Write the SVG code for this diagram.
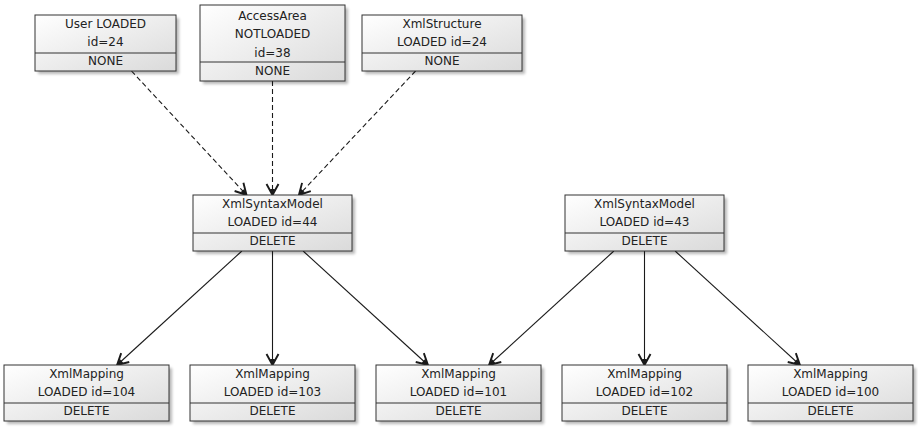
<svg xmlns="http://www.w3.org/2000/svg" width="918" height="428" viewBox="0 0 918 428">
<style>
  .box { fill: url(#g); stroke: #333333; stroke-width: 1; }
  .sh { fill: #000000; opacity: 0.28; filter: url(#blur); }
  .div { stroke: #333333; stroke-width: 1; }
  text { font-family: "DejaVu Sans", "Liberation Sans", sans-serif; font-size: 12px; fill: #222222; text-anchor: middle; }
  .edge { stroke: #1a1a1a; stroke-width: 1.1; fill: none; marker-end: url(#arr); }
  .dash { stroke-dasharray: 5 3; }
</style>
<defs>
  <linearGradient id="g" x1="0" y1="0" x2="1" y2="1">
    <stop offset="0" stop-color="#ffffff"/>
    <stop offset="1" stop-color="#dadada"/>
  </linearGradient>
  <filter id="blur" x="-10%" y="-10%" width="120%" height="130%">
    <feGaussianBlur stdDeviation="1.5"/>
  </filter>
  <marker id="arr" markerUnits="userSpaceOnUse" markerWidth="15" markerHeight="15" viewBox="0 0 15 15" refX="13" refY="7.5" orient="auto">
    <path d="M2,1.5 L13,7.5 L2,13.5" fill="none" stroke="#1a1a1a" stroke-width="1.9"/>
    <path d="M7,5 L13,7.5 L7,10 Z" fill="#1a1a1a"/>
  </marker>
</defs>
<rect width="918" height="428" fill="#ffffff"/>

<g id="connectors">
  <line class="edge dash" x1="131.5" y1="71" x2="246.5" y2="195"/>
  <line class="edge dash" x1="272.5" y1="81" x2="272.5" y2="195"/>
  <line class="edge dash" x1="415.6" y1="71" x2="298.9" y2="195"/>
  <line class="edge" x1="241.9" y1="251" x2="117.1" y2="365"/>
  <line class="edge" x1="272.5" y1="251" x2="272.5" y2="365"/>
  <line class="edge" x1="303.1" y1="251" x2="427.9" y2="365"/>
  <line class="edge" x1="613.9" y1="251" x2="489.1" y2="365"/>
  <line class="edge" x1="644.5" y1="251" x2="644.5" y2="365"/>
  <line class="edge" x1="675.1" y1="251" x2="799.9" y2="365"/>
</g>

<g id="user">
  <rect class="sh" x="38" y="18" width="141" height="56"/>
  <rect class="box" x="35" y="15" width="141" height="56"/>
  <line class="div" x1="35" y1="53" x2="176" y2="53"/>
  <text x="105.5" y="27.5">User LOADED</text>
  <text x="105.5" y="46">id=24</text>
  <text x="105.5" y="64.5">NONE</text>
</g>

<g id="accessarea">
  <rect class="sh" x="203" y="8" width="145" height="76"/>
  <rect class="box" x="200" y="5" width="145" height="76"/>
  <line class="div" x1="200" y1="62" x2="345" y2="62"/>
  <text x="272.5" y="19.5">AccessArea</text>
  <text x="272.5" y="38">NOTLOADED</text>
  <text x="272.5" y="56.5">id=38</text>
  <text x="272.5" y="75">NONE</text>
</g>

<g id="xmlstructure">
  <rect class="sh" x="365" y="18" width="160" height="56"/>
  <rect class="box" x="362" y="15" width="160" height="56"/>
  <line class="div" x1="362" y1="53" x2="522" y2="53"/>
  <text x="442" y="27.5">XmlStructure</text>
  <text x="442" y="46">LOADED id=24</text>
  <text x="442" y="64.5">NONE</text>
</g>

<g id="syntax44">
  <rect class="sh" x="196" y="198" width="159" height="56"/>
  <rect class="box" x="193" y="195" width="159" height="56"/>
  <line class="div" x1="193" y1="233" x2="352" y2="233"/>
  <text x="272.5" y="207.5">XmlSyntaxModel</text>
  <text x="272.5" y="226">LOADED id=44</text>
  <text x="272.5" y="244.5">DELETE</text>
</g>

<g id="syntax43">
  <rect class="sh" x="568" y="198" width="159" height="56"/>
  <rect class="box" x="565" y="195" width="159" height="56"/>
  <line class="div" x1="565" y1="233" x2="724" y2="233"/>
  <text x="644.5" y="207.5">XmlSyntaxModel</text>
  <text x="644.5" y="226">LOADED id=43</text>
  <text x="644.5" y="244.5">DELETE</text>
</g>

<g id="mapping104">
  <rect class="sh" x="7" y="368" width="165" height="56"/>
  <rect class="box" x="4" y="365" width="165" height="56"/>
  <line class="div" x1="4" y1="403" x2="169" y2="403"/>
  <text x="86.5" y="377.5">XmlMapping</text>
  <text x="86.5" y="396">LOADED id=104</text>
  <text x="86.5" y="414.5">DELETE</text>
</g>

<g id="mapping103">
  <rect class="sh" x="193" y="368" width="165" height="56"/>
  <rect class="box" x="190" y="365" width="165" height="56"/>
  <line class="div" x1="190" y1="403" x2="355" y2="403"/>
  <text x="272.5" y="377.5">XmlMapping</text>
  <text x="272.5" y="396">LOADED id=103</text>
  <text x="272.5" y="414.5">DELETE</text>
</g>

<g id="mapping101">
  <rect class="sh" x="379" y="368" width="165" height="56"/>
  <rect class="box" x="376" y="365" width="165" height="56"/>
  <line class="div" x1="376" y1="403" x2="541" y2="403"/>
  <text x="458.5" y="377.5">XmlMapping</text>
  <text x="458.5" y="396">LOADED id=101</text>
  <text x="458.5" y="414.5">DELETE</text>
</g>

<g id="mapping102">
  <rect class="sh" x="565" y="368" width="165" height="56"/>
  <rect class="box" x="562" y="365" width="165" height="56"/>
  <line class="div" x1="562" y1="403" x2="727" y2="403"/>
  <text x="644.5" y="377.5">XmlMapping</text>
  <text x="644.5" y="396">LOADED id=102</text>
  <text x="644.5" y="414.5">DELETE</text>
</g>

<g id="mapping100">
  <rect class="sh" x="751" y="368" width="165" height="56"/>
  <rect class="box" x="748" y="365" width="165" height="56"/>
  <line class="div" x1="748" y1="403" x2="913" y2="403"/>
  <text x="830.5" y="377.5">XmlMapping</text>
  <text x="830.5" y="396">LOADED id=100</text>
  <text x="830.5" y="414.5">DELETE</text>
</g>
</svg>
